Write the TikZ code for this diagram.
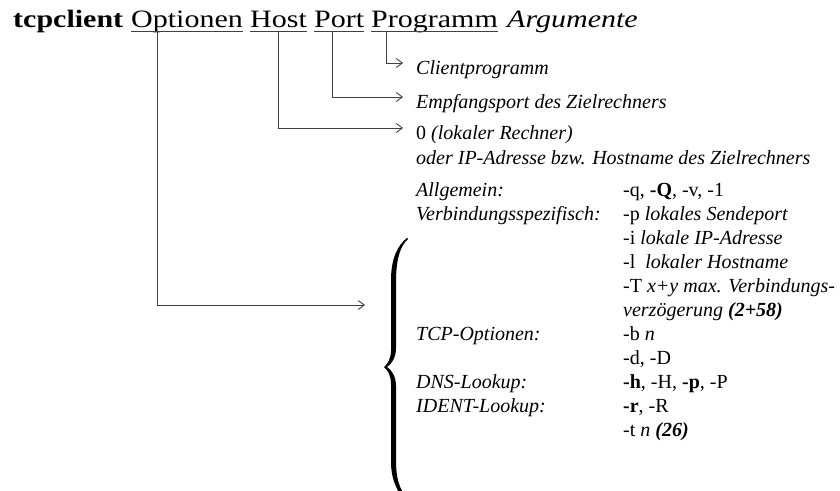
\documentclass[tikz,border=0pt]{standalone}
\usepackage{fontspec}
\setmainfont{Liberation Serif}[
	ItalicFont={Liberation Serif Italic},
	BoldFont={Liberation Serif Bold},
	BoldItalicFont={Liberation Serif Bold Italic}]
\usetikzlibrary{arrows.meta}

\newcommand{\breit}[1]{\scalebox{1.2}[1]{#1}}

\tikzset{
	wort/.style={inner sep=0pt, anchor=base west, font=\fontsize{25}{30}\selectfont},
	txt/.style={inner sep=0pt, anchor=base west, font=\fontsize{20}{24}\selectfont},
	linie/.style={draw=black!75, line width=0.9pt},
	pfeil/.style={linie, -{Straight Barb[length=6pt,width=9pt]}}
}

\begin{document}
\begin{tikzpicture}[x=1pt, y=-1pt]
	\useasboundingbox (0,0) rectangle (840,490);
	% Aufruf
	\node[wort] (tcpclient) at (13,27) {\breit{\bfseries tcpclient}};
	\node[wort] (optionen) at (131,27) {\breit{Optionen}};
	\node[wort] (host) at (250,27) {\breit{Host}};
	\node[wort] (port) at (314,27) {\breit{Port}};
	\node[wort] (programm) at (371,27) {\breit{Programm}};
	\node[wort] (argumente) at (507,27) {\breit{\itshape Argumente}};
	\foreach \w in {optionen, host, port, programm} {
		\draw[linie, line width=0.7pt] ([yshift=-4pt]\w.base west) -- ([yshift=-4pt]\w.base east);
	}
	% Erklaerungen
	\node[txt] (client) at (416,74) {\itshape Clientprogramm};
	\node[txt] (empfang) at (416,108) {\itshape Empfangsport des Zielrechners};
	\node[txt] (ziel) at (416,139) {0 \textit{(lokaler Rechner)}};
	\node[txt] (oder) at (416,164) {\itshape oder IP-Adresse bzw. Hostname des Zielrechners};
	\node[txt] (opts) at (416,196) {%
		\begin{tabular}[t]{@{}p{207pt}@{}l@{}}
			\textit{Allgemein:} & -q, \textbf{-Q}, -v, -1 \\
			\textit{Verbindungsspezifisch:} & -p \textit{lokales Sendeport} \\
			& -i \textit{lokale IP-Adresse} \\
			& -l\ \ \textit{lokaler Hostname} \\
			& -T \textit{x+y max. Verbindungs-} \\
			& \textit{verz\"ogerung \textbf{(2+58)}} \\
			\textit{TCP-Optionen:} & -b \textit{n} \\
			& -d, -D \\
			\textit{DNS-Lookup:} & \textbf{-h}, -H, \textbf{-p}, -P \\
			\textit{IDENT-Lookup:} & \textbf{-r}, -R \\
			& -t \textit{n \textbf{(26)}}
		\end{tabular}};
	% Klammer
	\fill[black] (407,238) .. controls (398,245) and (391,258) .. (391,280) -- (391,350)
		.. controls (391,358) and (388,364) .. (384,367)
		.. controls (388,370) and (391,376) .. (391,384) -- (391,462)
		.. controls (391,476) and (395,486) .. (400,494) -- (404,494)
		.. controls (398,485) and (396,475) .. (396,460) -- (396,386)
		.. controls (396,377) and (392,370) .. (387,367)
		.. controls (392,364) and (396,357) .. (396,348) -- (396,282)
		.. controls (396,260) and (400,246) .. (408,239) -- cycle;
	\coordinate (klammer) at (365,305);
	% Pfeile
	\draw[pfeil] ([xshift=15pt,yshift=-4pt]programm.base west) |- ([xshift=-13pt,yshift=11pt]client.base west);
	\draw[pfeil] ([xshift=18pt,yshift=-4pt]port.base west) |- ([xshift=-13pt,yshift=11pt]empfang.base west);
	\draw[pfeil] ([xshift=28pt,yshift=-4pt]host.base west) |- ([xshift=-13pt,yshift=11pt]ziel.base west);
	\draw[pfeil] ([xshift=26pt,yshift=-4pt]optionen.base west) |- (klammer);
\end{tikzpicture}
\end{document}
